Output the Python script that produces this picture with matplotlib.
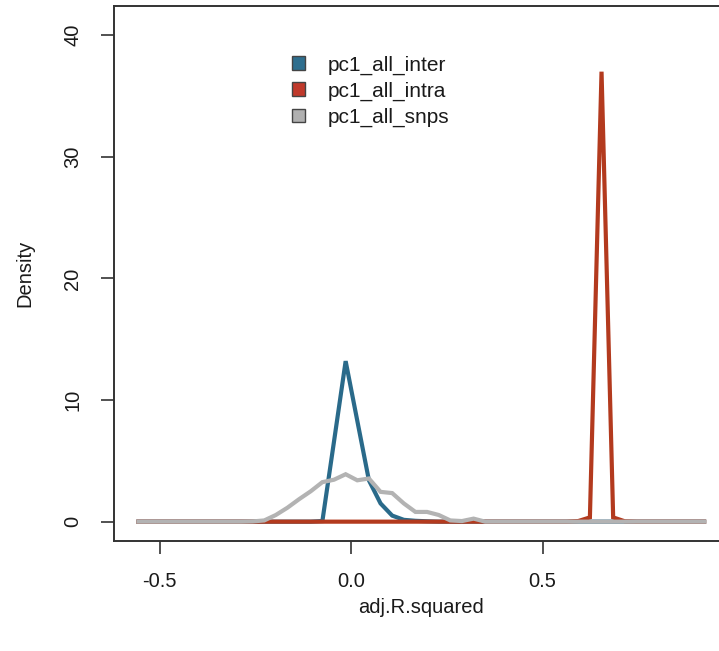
import numpy as np
import matplotlib
matplotlib.use("Agg")
import matplotlib.pyplot as plt
from matplotlib.patches import Patch

plt.rcParams['font.family'] = ['Liberation Sans', 'DejaVu Sans']

# density evaluation grid (50 points)
x_grid = np.linspace(-0.561, 0.927, 50)

inter = [0, 0, 0, 0, 0, 0, 0, 0, 0, 0,
         0, 0, 0, 0, 0, 0, 0.05, 6.6, 13.2, 8.3,
         3.4, 1.5, 0.5, 0.15, 0.07, 0.03, 0, 0, 0, 0,
         0, 0, 0, 0, 0, 0, 0, 0, 0, 0,
         0, 0, 0, 0, 0, 0, 0, 0, 0, 0]
intra = [0, 0, 0, 0, 0, 0, 0, 0, 0, 0,
         0, 0, 0, 0, 0, 0, 0, 0, 0, 0,
         0, 0, 0, 0, 0, 0, 0, 0, 0, 0,
         0, 0, 0, 0, 0, 0, 0, 0, 0.05, 0.35,
         37.0, 0.35, 0.03, 0, 0, 0, 0, 0, 0, 0]
snps = [0, 0, 0, 0, 0, 0, 0, 0, 0, 0,
        0.02, 0.1, 0.55, 1.15, 1.85, 2.5, 3.25, 3.45, 3.9, 3.4,
        3.55, 2.45, 2.35, 1.5, 0.8, 0.8, 0.55, 0.1, 0.05, 0.25,
        0, 0, 0, 0, 0, 0, 0, 0, 0, 0,
        0, 0, 0, 0, 0, 0, 0, 0, 0, 0]

series_names = ["pc1_all_inter", "pc1_all_intra", "pc1_all_snps"]
line_colors = ["#2a6a8a", "#b33a1e", "#b3b3b3"]
fill_colors = ["#2e6e8e", "#c0392b", "#b0b0b0"]

x_ticks = [-0.5, 0.0, 0.5]
x_ticklabels = ["-0.5", "0.0", "0.5"]
y_ticks = [0, 10, 20, 30, 40]

fig = plt.figure(figsize=(7.19, 6.51), dpi=100)
ax = fig.add_axes([113.5 / 719, 110 / 651, (729 - 113.5) / 719, 535 / 651])

for ys, c in zip([inter, intra, snps], line_colors):
    ax.plot(x_grid, ys, color=c, lw=3.0, solid_joinstyle='miter', solid_capstyle='butt')

ax.set_xlim(-0.6205, 0.9865)
ax.set_ylim(-1.59, 42.4)

ax.set_xticks(x_ticks)
ax.set_xticklabels(x_ticklabels)
ax.set_yticks(y_ticks)
ax.set_yticklabels([str(v) for v in y_ticks], rotation=90, va='center')
ax.tick_params(axis='both', direction='out', length=9.5, width=1.2, labelsize=14.5,
               colors='#333333', labelcolor='#1a1a1a')
ax.tick_params(axis='x', pad=13)
ax.tick_params(axis='y', pad=13)

for s in ax.spines.values():
    s.set_linewidth(1.4)
    s.set_color('#333333')

ax.set_xlabel("adj.R.squared", fontsize=14.5, color='#1a1a1a', labelpad=5)
ax.set_ylabel("Density", fontsize=14.5, color='#1a1a1a', labelpad=21)

handles = [Patch(facecolor=fc, edgecolor='#444444', linewidth=1.0) for fc in fill_colors]
leg = ax.legend(handles, series_names, loc='upper left',
                bbox_to_anchor=((284 - 113.5) / 615.5, (541 - 47) / 535),
                frameon=False, fontsize=15, handlelength=0.6, handleheight=0.6,
                handletextpad=1.1, labelspacing=0.33, borderaxespad=0)
for t in leg.get_texts():
    t.set_color('#1a1a1a')

fig.savefig("out.png", dpi=100)
